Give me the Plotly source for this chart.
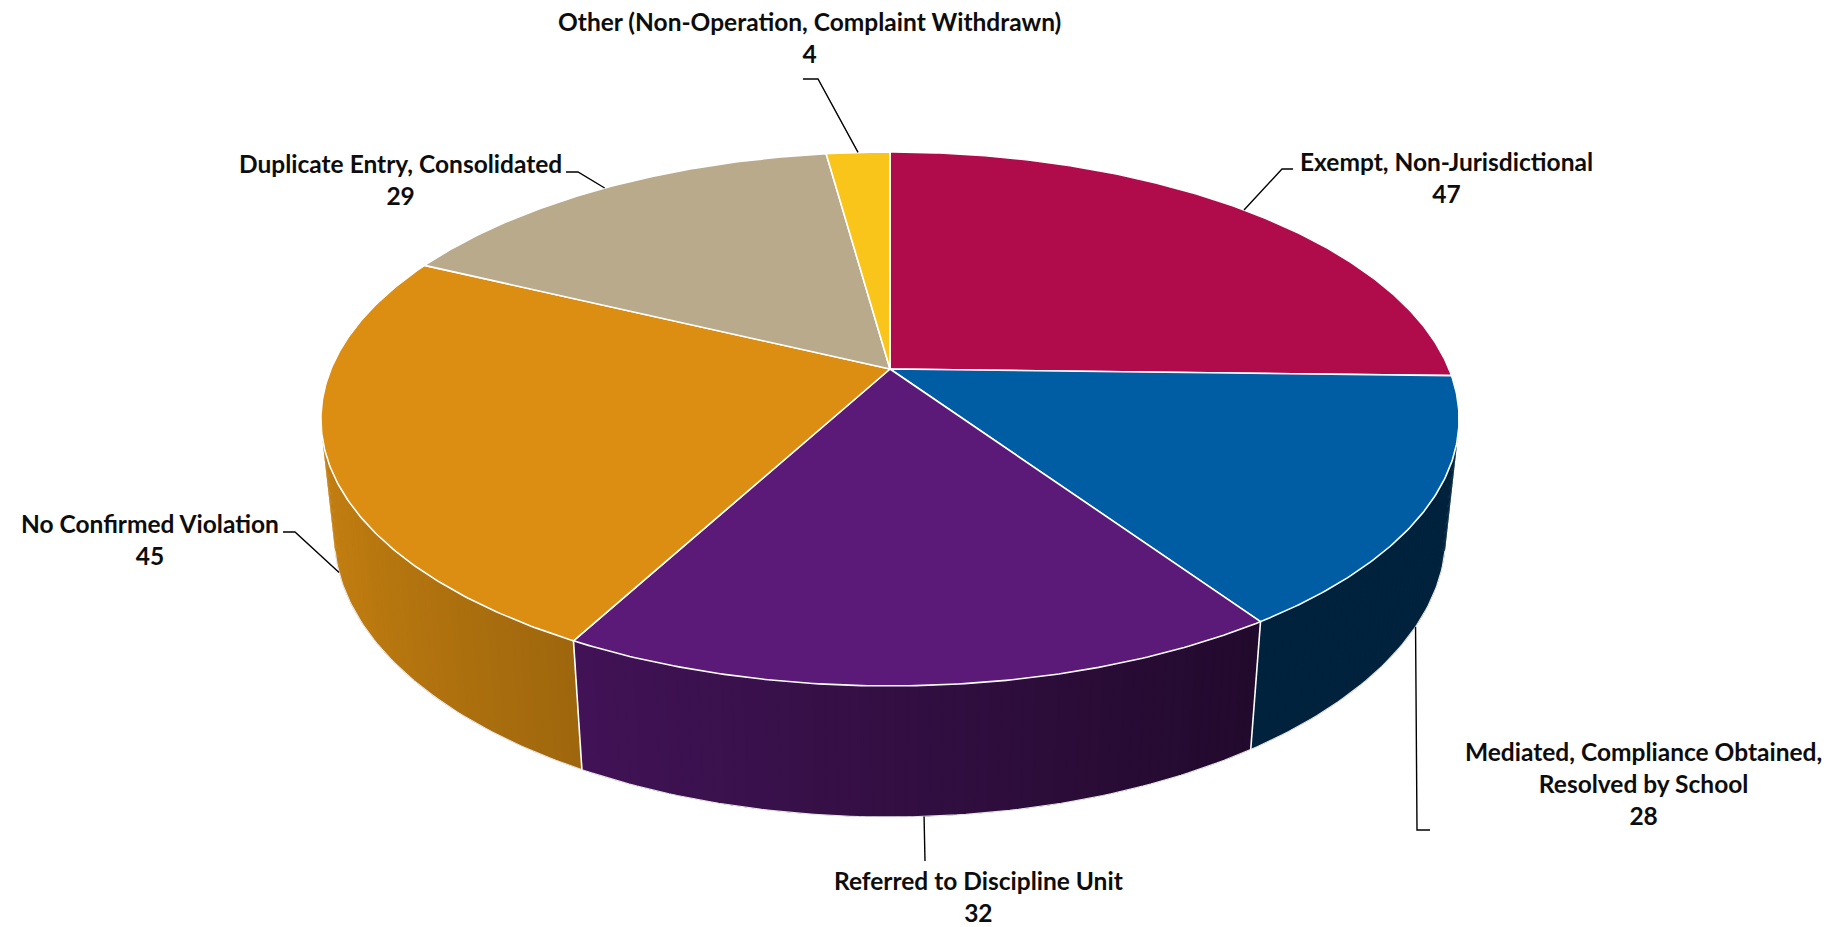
import numpy as np
import plotly.graph_objects as go

# ---------------- data ----------------
categories = [
    "Exempt, Non-Jurisdictional",
    "Mediated, Compliance Obtained, Resolved by School",
    "Referred to Discipline Unit",
    "No Confirmed Violation",
    "Duplicate Entry, Consolidated",
    "Other (Non-Operation, Complaint Withdrawn)",
]
values = [47, 28, 32, 45, 29, 4]
colors = ["#B00B4B", "#005DA3", "#5B1A78", "#DB8E12", "#B8AA8B", "#F9C51B"]

# ---------------- layout / style constants ----------------
W, HGT = 1840, 927
CX, CY = 890.0, 369.0          # pie centre on screen
S = 559.0                       # screen scale of radius
PHI = np.radians(27.44)         # elevation
RD = 0.2110                     # radius / camera distance (perspective)
THICK = 0.2353                  # pie thickness (radius units)

label_pos = [(1446, 177.5), (1643, 783.5), (978, 896), (150, 539), (400, 179), (809, 37)]
leader_pts = [
    [(1282, 169), (1293, 169)],
    [(1417, 830), (1430, 830)],
    [(925, 861)],
    [(295, 532), (283, 532)],
    [(578, 172), (566, 172)],
    [(818, 79), (803, 79)],
]
anchor_z = [0, -THICK, -THICK, -THICK, 0, 0]
FONT = dict(family="Lato, Carlito, Calibri, sans-serif", size=24.5, color="#0D0D0D", weight=700)


def proj(theta_deg, r, z):
    t = np.radians(theta_deg)
    x = r * np.sin(t)
    y = r * np.cos(t)
    w = 1 + RD * (y * np.cos(PHI) - z * np.sin(PHI))
    sx = CX + S * x / w
    sy = CY - S * (y * np.sin(PHI) + z * np.cos(PHI)) / w
    return sx, sy


def shade(hex_color, f):
    h = hex_color.lstrip("#")
    r, g, b = (int(h[i:i + 2], 16) for i in (0, 2, 4))
    return "rgb(%d,%d,%d)" % (round(r * f), round(g * f), round(b * f))


def shade_factor(theta_deg):
    return max(0.37, 0.56 - 0.34 * np.sin(np.radians(theta_deg)))


total = float(sum(values))
cum = np.cumsum(values)
starts = 360.0 * (cum - np.array(values)) / total
ends = 360.0 * cum / total

vis_lo = np.degrees(np.arccos(-RD / np.cos(PHI)))
vis_hi = 360.0 - vis_lo

fig = go.Figure()

# ---- side wall (gradient strips, slightly overlapping to hide seams) ----
for i, (s, e) in enumerate(zip(starts, ends)):
    a, b = max(s, vis_lo), min(e, vis_hi)
    if a >= b:
        continue
    n = max(2, int(np.ceil((b - a) / 1.0)))
    edges = np.linspace(a, b, n + 1)
    step = edges[1] - edges[0]
    for k, (t0, t1) in enumerate(zip(edges[:-1], edges[1:])):
        t1e = min(b, t1 + 0.6 * step)
        arc = np.linspace(t0, t1e, 4)
        xt, yt = proj(arc, 1, 0)
        xb, yb = proj(arc[::-1], 1, -THICK)
        xs = np.concatenate([xt, xb, xt[:1]])
        ys = np.concatenate([yt, yb, yt[:1]])
        c = shade(colors[i], shade_factor(0.5 * (t0 + t1)))
        fig.add_trace(go.Scatter(
            x=xs, y=ys, mode="lines", fill="toself", fillcolor=c,
            line=dict(color=c, width=0), hoverinfo="skip", showlegend=False))

# wall outline (bottom rim) and vertical slice edges
tt = np.linspace(vis_lo, vis_hi, 200)
bx, by = proj(tt, 1, -THICK)
fig.add_trace(go.Scatter(x=bx, y=by, mode="lines", line=dict(color="#E6E6E6", width=1.2),
                         hoverinfo="skip", showlegend=False))
for s in starts:
    if vis_lo < s < vis_hi:
        x0, y0 = proj(s, 1, 0)
        x1, y1 = proj(s, 1, -THICK)
        fig.add_trace(go.Scatter(x=[x0, x1], y=[y0, y1], mode="lines",
                                 line=dict(color="white", width=1.6),
                                 hoverinfo="skip", showlegend=False))

# ---- top faces ----
for i, (s, e) in enumerate(zip(starts, ends)):
    tt = np.linspace(s, e, max(3, int((e - s) * 2)))
    ax, ay = proj(tt, 1, 0)
    cx0, cy0 = proj(0, 0, 0)
    xs = np.concatenate([[cx0], ax, [cx0]])
    ys = np.concatenate([[cy0], ay, [cy0]])
    fig.add_trace(go.Scatter(
        x=xs, y=ys, mode="lines", fill="toself", fillcolor=colors[i],
        line=dict(color="white", width=1.6), hoverinfo="skip", showlegend=False,
        name=categories[i]))

# ---- leader lines and labels ----
for i, cat in enumerate(categories):
    mid = 0.5 * (starts[i] + ends[i])
    axp, ayp = proj(mid, 1, anchor_z[i])
    pts = [(axp, ayp)] + leader_pts[i]
    fig.add_trace(go.Scatter(x=[p[0] for p in pts], y=[p[1] for p in pts], mode="lines",
                             line=dict(color="black", width=1.4),
                             hoverinfo="skip", showlegend=False))
    text = cat.replace("Obtained, ", "Obtained,<br>") + "<br>" + str(values[i])
    lx, ly = label_pos[i]
    fig.add_annotation(x=lx, y=ly, xref="x", yref="y", text=text, showarrow=False,
                       xanchor="center", yanchor="middle", align="center", font=FONT)

fig.update_layout(
    width=W, height=HGT, autosize=False,
    margin=dict(l=0, r=0, t=0, b=0),
    paper_bgcolor="white", plot_bgcolor="white",
    xaxis=dict(range=[0, W], visible=False, fixedrange=True),
    yaxis=dict(range=[HGT, 0], visible=False, fixedrange=True),
    showlegend=False,
)

fig.write_html(
    "out.html",
    config={"displayModeBar": False},
    post_script="document.body.style.margin='0';document.body.style.overflow='hidden';",
)
